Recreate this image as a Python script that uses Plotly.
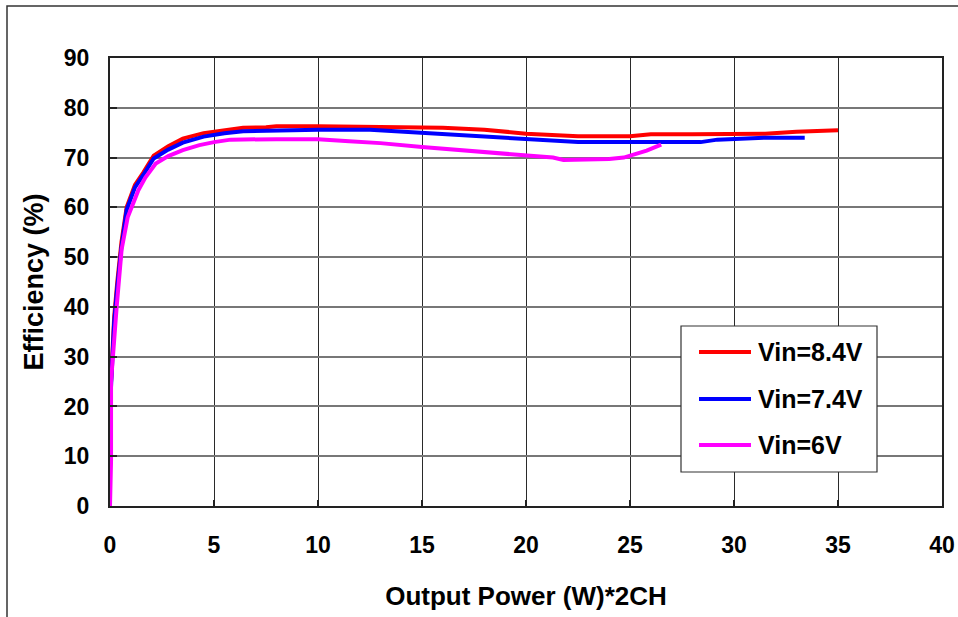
import plotly.graph_objects as go

# ---- data ----
series_names = ["Vin=8.4V", "Vin=7.4V", "Vin=6V"]
series_colors = ["#FF0000", "#0000FF", "#FF00FF"]

x_84 = [0.05, 0.1, 0.2, 0.35, 0.55, 0.8, 1.2, 1.6, 2.1, 2.8, 3.5, 4.5, 5.5, 6.4, 7.5, 8.0,
        10, 12.5, 14, 16, 18, 20, 22.5, 25, 26, 28, 30, 31.5, 33, 35]
y_84 = [25, 31, 38, 45, 53, 60, 64.5, 67, 70.4, 72.3, 73.8, 74.9, 75.5, 76.0, 76.1, 76.3,
        76.3, 76.3, 76.1, 76.0, 75.6, 74.8, 74.3, 74.3, 74.7, 74.7, 74.7, 74.8, 75.2, 75.5]

x_74 = [0.05, 0.1, 0.2, 0.35, 0.55, 0.8, 1.2, 1.6, 2.1, 2.8, 3.5, 4.5, 5.5, 6.4, 7.5, 8.0,
        10, 12.5, 15, 17.5, 20, 22.5, 25, 28.4, 29.2, 30.5, 31.5, 33.4]
y_74 = [24, 30, 37, 44, 52, 59.5, 64, 66.5, 69.8, 71.6, 73.0, 74.2, 74.9, 75.3, 75.4, 75.6,
        75.6, 75.6, 75.0, 74.4, 73.6, 73.1, 73.1, 73.1, 73.6, 73.8, 74.0, 74.0]

x_6 = [0.0, 0.05, 0.05, 0.1, 0.2, 0.32, 0.56, 0.85, 1.35, 1.7, 2.2, 2.8, 3.5, 4.3, 5.0, 5.8,
       8, 10, 11.5, 13, 15, 17.5, 20, 21.3, 21.8, 23.2, 24, 24.7, 25.1, 25.8, 26.5]
y_6 = [0, 9, 25, 28, 33, 40, 51.6, 58, 63.3, 66, 68.8, 70.3, 71.5, 72.5, 73.1, 73.6,
       73.7, 73.7, 73.3, 72.9, 72.1, 71.3, 70.5, 70.0, 69.5, 69.5, 69.7, 70.0, 70.5, 71.4, 72.6]

x_ticks = [0, 5, 10, 15, 20, 25, 30, 35, 40]
y_ticks = [0, 10, 20, 30, 40, 50, 60, 70, 80, 90]

x_title = "Output Power (W)*2CH"
y_title = "Efficiency (%)"

FONT = "Liberation Sans, Arial, sans-serif"

fig = go.Figure()
for xs, ys, name, col in zip([x_84, x_74, x_6], [y_84, y_74, y_6], series_names, series_colors):
    fig.add_trace(go.Scatter(x=xs, y=ys, mode="lines", name=name,
                             line=dict(color=col, width=4), showlegend=False))

W, H = 958, 617
L, T = 110, 58
pw, ph = 832, 448
R = W - L - pw
B = H - T - ph

def px(x):
    return (x - L) / pw

def py(y):
    return (T + ph - y) / ph

shapes = []
annotations = []
# outer frame (left and top edges visible)
shapes.append(dict(type="rect", xref="paper", yref="paper",
                   x0=px(7), x1=px(1000), y0=py(6), y1=py(700),
                   line=dict(color="#333333", width=1.5), layer="below"))
# legend box
shapes.append(dict(type="rect", xref="paper", yref="paper",
                   x0=px(681), x1=px(877), y0=py(472), y1=py(326),
                   line=dict(color="#333333", width=1.2), fillcolor="white", layer="above"))
rows = [352, 399, 445]
for name, col, ry in zip(series_names, series_colors, rows):
    shapes.append(dict(type="line", xref="paper", yref="paper",
                       x0=px(699), x1=px(751), y0=py(ry), y1=py(ry),
                       line=dict(color=col, width=4), layer="above"))
    annotations.append(dict(xref="paper", yref="paper", x=px(756), y=py(ry),
                            xanchor="left", yanchor="middle", showarrow=False,
                            text=name, font=dict(family=FONT, size=25, color="black", weight="bold")))

fig.update_layout(
    width=W, height=H,
    margin=dict(l=L, r=R, t=T, b=B, autoexpand=False),
    paper_bgcolor="white", plot_bgcolor="white",
    shapes=shapes, annotations=annotations,
    showlegend=False,
    xaxis=dict(range=[0, 40], tickvals=x_ticks, ticktext=[str(v) for v in x_ticks],
               automargin=False,
               showgrid=True, gridcolor="#2a2a2a", gridwidth=1.3,
               showline=True, linecolor="#222222", linewidth=2, mirror=True,
               ticks="inside", ticklen=6, tickcolor="#222222", tickwidth=1.5,
               ticklabelstandoff=17, zeroline=False,
               tickfont=dict(family=FONT, size=23, color="black", weight="bold"),
               title=dict(text=x_title, standoff=30,
                          font=dict(family=FONT, size=26, color="black", weight="bold"))),
    yaxis=dict(range=[0, 90], tickvals=y_ticks, ticktext=[str(v) for v in y_ticks],
               automargin=False,
               showgrid=True, gridcolor="#777777", gridwidth=2,
               showline=True, linecolor="#222222", linewidth=2, mirror=True,
               ticks="inside", ticklen=7, tickcolor="#222222", tickwidth=2,
               ticklabelstandoff=14, zeroline=False,
               tickfont=dict(family=FONT, size=23, color="black", weight="bold"),
               title=dict(text=y_title, standoff=12,
                          font=dict(family=FONT, size=27, color="black", weight="bold"))),
)

fig.write_html("out.html",
               config={"displayModeBar": False},
               post_script="document.body.style.margin='0';document.body.style.overflow='hidden';")
